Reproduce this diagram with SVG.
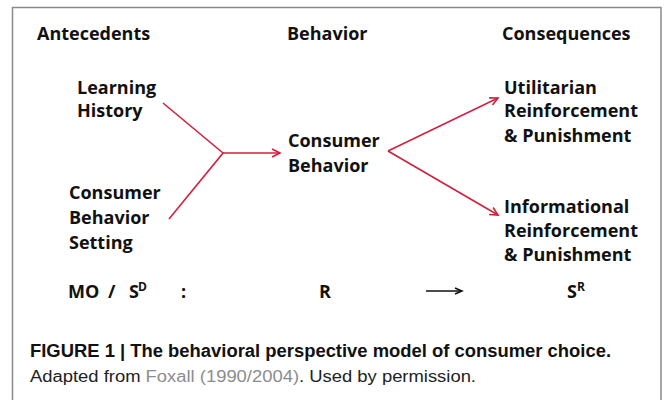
<svg xmlns="http://www.w3.org/2000/svg" width="671" height="400" viewBox="0 0 671 400">
<style>
.t{font-family:"Open Sans",Lato,"Liberation Sans",sans-serif;font-weight:700;font-size:18px;fill:#111}
.sup{font-size:12px}
.c{stroke:#d0213f;stroke-width:1.6;fill:none}
.cap1{font-family:"Liberation Sans",Arial,sans-serif;font-weight:700;font-size:18px;fill:#111}
.cap2{font-family:"Liberation Sans",Arial,sans-serif;font-size:16px;fill:#222}
</style>
<defs>
<marker id="ar" markerUnits="userSpaceOnUse" markerWidth="12" markerHeight="12" refX="9" refY="5" orient="auto">
<path d="M1,1 L9,5 L1,9" fill="none" stroke="#d0213f" stroke-width="1.6"/>
</marker>
<marker id="ak" markerUnits="userSpaceOnUse" markerWidth="12" markerHeight="12" refX="9" refY="5" orient="auto">
<path d="M2,2 L9,5 L2,8" fill="none" stroke="#111" stroke-width="1.5"/>
</marker>
</defs>
<rect x="12.5" y="7.5" width="648.5" height="410" fill="#fff" stroke="#8a8a8a" stroke-width="1.5"/>
<g id="headers">
<text class="t" x="37" y="40">Antecedents</text>
<text class="t" x="287" y="40">Behavior</text>
<text class="t" x="502" y="40">Consequences</text>
</g>
<g id="learning-history">
<text class="t" x="77" y="94">Learning</text>
<text class="t" x="77" y="117">History</text>
</g>
<g id="behavior-setting">
<text class="t" x="69" y="199">Consumer</text>
<text class="t" x="69" y="224">Behavior</text>
<text class="t" x="69" y="249">Setting</text>
</g>
<g id="consumer-behavior">
<text class="t" x="288" y="147">Consumer</text>
<text class="t" x="288" y="172">Behavior</text>
</g>
<g id="utilitarian">
<text class="t" x="504" y="94">Utilitarian</text>
<text class="t" x="504" y="117">Reinforcement</text>
<text class="t" x="504" y="142">&amp; Punishment</text>
</g>
<g id="informational">
<text class="t" x="504" y="213">Informational</text>
<text class="t" x="504" y="237">Reinforcement</text>
<text class="t" x="504" y="261">&amp; Punishment</text>
</g>
<g id="connectors">
<path class="c" d="M163,103 L223,153 L169,219"/>
<path class="c" d="M223,153 L280,153" marker-end="url(#ar)"/>
<path class="c" d="M388,151 L498,98" marker-end="url(#ar)"/>
<path class="c" d="M388,151 L498,215" marker-end="url(#ar)"/>
<path d="M426,291 L462,291" stroke="#111" stroke-width="1.5" fill="none" marker-end="url(#ak)"/>
</g>
<g id="formula">
<text class="t" x="68" y="298">MO</text>
<text class="t" x="108" y="298">/</text>
<text class="t" x="129" y="298">S</text>
<text class="t sup" x="138" y="291">D</text>
<text class="t" x="181" y="298">:</text>
<text class="t" x="319" y="298">R</text>
<text class="t" x="567" y="298">S</text>
<text class="t sup" x="577" y="291">R</text>
</g>
<g id="caption">
<text class="cap1" x="30" y="357" textLength="581" lengthAdjust="spacingAndGlyphs">FIGURE 1 | The behavioral perspective model of consumer choice.</text>
<text class="cap2" x="30" y="382" textLength="446" lengthAdjust="spacingAndGlyphs">Adapted from <tspan fill="#8c8c8c">Foxall (1990/2004)</tspan>. Used by permission.</text>
</g>
</svg>
